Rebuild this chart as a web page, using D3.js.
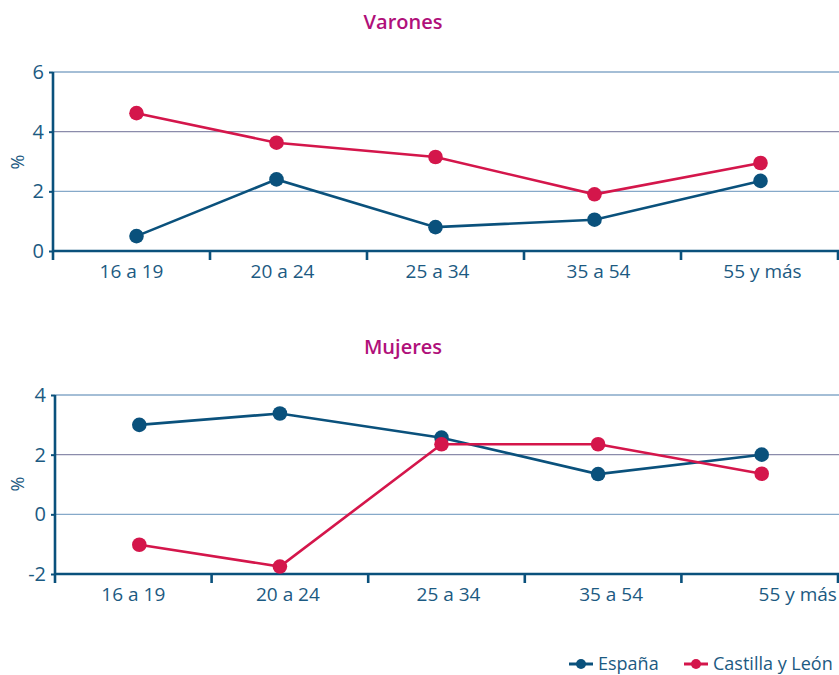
<!DOCTYPE html>
<html>
<head>
<meta charset="utf-8">
<script src="https://cdn.jsdelivr.net/npm/d3@7/dist/d3.min.js"></script>
<style>
  body { margin: 0; background: #fff; }
  svg text { font-family: "Open Sans", "Noto Sans", sans-serif; }
</style>
</head>
<body>
<svg id="chart" width="839" height="675"></svg>
<script>
// Age groups shared by both panels
var ageGroups = ['16 a 19', '20 a 24', '25 a 34', '35 a 54', '55 y más'];

// Varones
var varonesEspana = [0.5, 2.4, 0.8, 1.05, 2.35];
var varonesCyL = [4.62, 3.63, 3.15, 1.9, 2.95];
var varonesTicks = [0, 2, 4, 6];

// Mujeres
var mujeresEspana = [3.0, 3.38, 2.57, 1.35, 2.0];
var mujeresCyL = [-1.02, -1.75, 2.35, 2.35, 1.36];
var mujeresTicks = [-2, 0, 2, 4];

var seriesNames = ['España', 'Castilla y León'];
var seriesColors = ['#0a517c', '#d4164b'];

var svg = d3.select('#chart');

function drawPanel(opts) {
  var g = svg.append('g');
  var x = d3.scaleBand().domain(ageGroups).range([opts.left, 838]);
  var y = d3.scaleLinear().domain(opts.domain).range([opts.bottom, opts.top]);

  // title
  g.append('text')
      .attr('x', 403).attr('y', opts.titleY)
      .attr('text-anchor', 'middle')
      .attr('fill', '#b0107a')
      .style('font-size', '20px')
      .style('font-weight', 600)
      .text(opts.title);

  // gridlines
  g.selectAll('line.grid')
      .data(opts.ticks.filter(function (t) { return t !== opts.domain[0]; }))
      .enter().append('line')
      .attr('class', 'grid')
      .attr('x1', opts.left).attr('x2', 839)
      .attr('y1', function (d) { return y(d); })
      .attr('y2', function (d) { return y(d); })
      .attr('stroke', function (d) { return d === opts.darkTick ? '#8b8cab' : '#86a9c9'; })
      .attr('stroke-width', 1.3);

  // y axis
  var yAxis = g.append('g')
      .attr('transform', 'translate(' + opts.left + ',0)')
      .call(d3.axisLeft(y).tickValues(opts.ticks).tickSize(4).tickPadding(5).tickFormat(String));
  yAxis.select('.domain').remove();
  yAxis.selectAll('line').attr('stroke', '#0a517c').attr('stroke-width', 2);
  yAxis.selectAll('text')
      .attr('fill', '#1c5a82')
      .style('font-size', '20px');
  g.append('line')
      .attr('x1', opts.left).attr('x2', opts.left)
      .attr('y1', opts.top).attr('y2', opts.bottom + 9)
      .attr('stroke', '#0a517c').attr('stroke-width', 2.6);

  // x axis
  var xAxis = g.append('g')
      .attr('transform', 'translate(0,' + opts.bottom + ')')
      .call(d3.axisBottom(x).tickSize(0).tickPadding(14));
  xAxis.select('.domain').remove();
  xAxis.selectAll('text')
      .attr('fill', '#1c5a82')
      .attr('dx', function (d, i) { return opts.labelShift[i]; })
      .style('font-size', '19px');
  g.append('line')
      .attr('x1', opts.left).attr('x2', 839)
      .attr('y1', opts.bottom).attr('y2', opts.bottom)
      .attr('stroke', '#0a517c').attr('stroke-width', 2.6);
  g.selectAll('line.xtick')
      .data(ageGroups)
      .enter().append('line')
      .attr('class', 'xtick')
      .attr('x1', function (d) { return x(d) + x.bandwidth(); })
      .attr('x2', function (d) { return x(d) + x.bandwidth(); })
      .attr('y1', opts.bottom).attr('y2', opts.bottom + 9)
      .attr('stroke', '#0a517c').attr('stroke-width', 2.6);

  // % label
  g.append('text')
      .attr('transform', 'translate(24,' + opts.pctY + ') rotate(-90)')
      .attr('text-anchor', 'middle')
      .attr('fill', '#1c5a82')
      .style('font-size', '18px')
      .text('%');

  // series
  var px = function (d, i) { return x(ageGroups[i]) + x.bandwidth() / 2 + opts.pointShift[i]; };
  var line = d3.line()
      .x(px)
      .y(function (d) { return y(d); });

  opts.series.forEach(function (values, s) {
    g.append('path')
        .datum(values)
        .attr('fill', 'none')
        .attr('stroke', seriesColors[s])
        .attr('stroke-width', 2.6)
        .attr('d', line);
    g.selectAll('circle.s' + s)
        .data(values)
        .enter().append('circle')
        .attr('class', 's' + s)
        .attr('cx', px)
        .attr('cy', function (d) { return y(d); })
        .attr('r', 7.3)
        .attr('fill', seriesColors[s]);
  });
}

drawPanel({
  title: 'Varones', titleY: 29,
  domain: [0, 6], ticks: varonesTicks, darkTick: 4,
  top: 72, bottom: 251, left: 53, pctY: 162,
  series: [varonesEspana, varonesCyL],
  pointShift: [5, -12, -10, -8, 1],
  labelShift: [0, -6, -8, -4, 3]
});

drawPanel({
  title: 'Mujeres', titleY: 354,
  domain: [-2, 4], ticks: mujeresTicks, darkTick: 2,
  top: 395, bottom: 574, left: 55, pctY: 484,
  series: [mujeresEspana, mujeresCyL],
  pointShift: [6, -10, -5, -5, 2],
  labelShift: [0, -2, 2, 8, 38]
});

// legend
var legend = svg.append('g').attr('transform', 'translate(0,664)');
var legendX = [569, 684];
seriesNames.forEach(function (name, i) {
  var lg = legend.append('g').attr('transform', 'translate(' + legendX[i] + ',0)');
  lg.append('line').attr('x1', 0).attr('x2', 24).attr('y1', 0).attr('y2', 0)
      .attr('stroke', seriesColors[i]).attr('stroke-width', 3);
  lg.append('circle').attr('cx', 12).attr('cy', 0).attr('r', 5).attr('fill', seriesColors[i]);
  lg.append('text').attr('x', 29).attr('y', 6)
      .attr('fill', '#1c5a82')
      .style('font-size', '18px')
      .text(name);
});
</script>
</body>
</html>
